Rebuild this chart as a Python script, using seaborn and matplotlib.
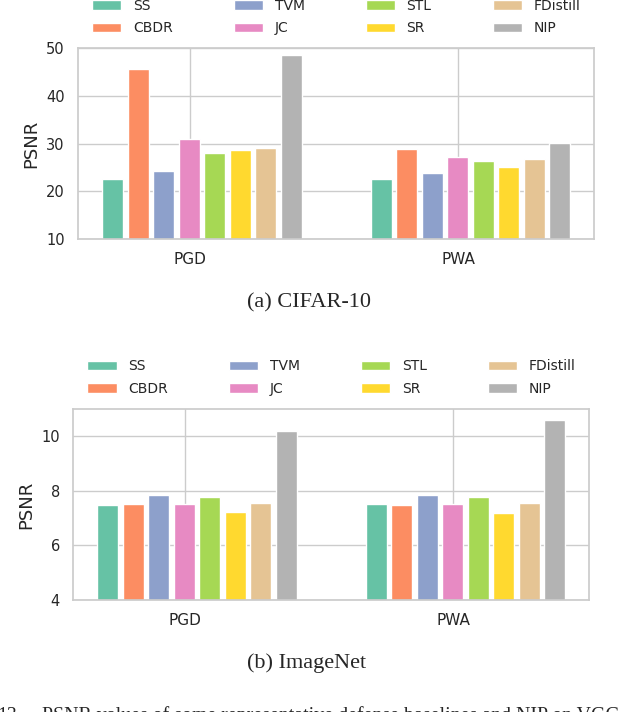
import pandas as pd
import seaborn as sns
import matplotlib.pyplot as plt

# Defense methods and attacks
methods = ['SS', 'CBDR', 'TVM', 'JC', 'STL', 'SR', 'FDistill', 'NIP']
attacks = ['PGD', 'PWA']

# PSNR values (per attack, in method order)
cifar_pgd = [22.6, 45.7, 24.3, 31.0, 28.1, 28.7, 29.1, 48.6]
cifar_pwa = [22.6, 28.9, 23.9, 27.2, 26.4, 25.1, 26.8, 30.2]
imagenet_pgd = [7.49, 7.53, 7.86, 7.53, 7.79, 7.24, 7.57, 10.2]
imagenet_pwa = [7.53, 7.49, 7.86, 7.53, 7.79, 7.20, 7.57, 10.6]

cifar_ticks = [10, 20, 30, 40, 50]
imagenet_ticks = [4, 6, 8, 10]


def to_long(pgd, pwa):
    rows = []
    for attack, vals in zip(attacks, [pgd, pwa]):
        for m, v in zip(methods, vals):
            rows.append({'attack': attack, 'method': m, 'PSNR': v})
    return pd.DataFrame(rows)


sns.set_theme(style='whitegrid')
plt.rcParams['font.family'] = ['DejaVu Sans']

fig = plt.figure(figsize=(6.26, 7.12), dpi=100)
ax1 = fig.add_axes([0.1246, 0.6643, 0.824, 0.2683])
ax2 = fig.add_axes([0.1166, 0.1573, 0.824, 0.2683])

panels = [
    (ax1, to_long(cifar_pgd, cifar_pwa), (10, 50), cifar_ticks,
     '(a) CIFAR-10', 0.9757, 0.537, 1 - 303 / 712, 0.494),
    (ax2, to_long(imagenet_pgd, imagenet_pwa), (4, 11), imagenet_ticks,
     '(b) ImageNet', 0.4698, 0.5296, 1 - 663 / 712, 0.489),
]

for ax, df, ylim, ticks, caption, ly, lx, cy, cx in panels:
    sns.barplot(data=df, x='attack', y='PSNR', hue='method',
                hue_order=methods, palette='Set2', saturation=1,
                width=0.76, gap=0.17, ax=ax)
    ax.set_ylim(*ylim)
    ax.set_yticks(ticks)
    # category ticks sit a little left of the bar group centres
    ax.set_xticks([-0.045, 0.955], attacks)
    ax.set_xlim(-0.462, 1.46)
    ax.set_xlabel('')
    ax.set_ylabel('PSNR', fontsize=13)
    ax.tick_params(axis='y', labelsize=10.5)
    ax.tick_params(axis='x', labelsize=11)
    ax.grid(True, axis='both')
    handles, labels = ax.get_legend_handles_labels()
    ax.get_legend().remove()
    fig.legend(handles, labels, loc='center', bbox_to_anchor=(lx, ly),
               ncol=4, frameon=False, fontsize=10, handlelength=2.1,
               handletextpad=0.84, columnspacing=4.4, labelspacing=0.6)
    fig.text(cx, cy, caption, ha='center', va='center', fontsize=16,
             family='Liberation Serif')

# figure caption, cut by the bottom edge as in the source page
fig.text(22 / 626, -0.0125, '13.', ha='right', va='baseline',
         fontsize=14.3, family='Liberation Serif')
fig.text(42 / 626, -0.0125,
         'PSNR values of some representative defense baselines '
         'and NIP on VGG',
         ha='left', va='baseline', fontsize=14.3, family='Liberation Serif')

fig.savefig('out.png', dpi=100)
